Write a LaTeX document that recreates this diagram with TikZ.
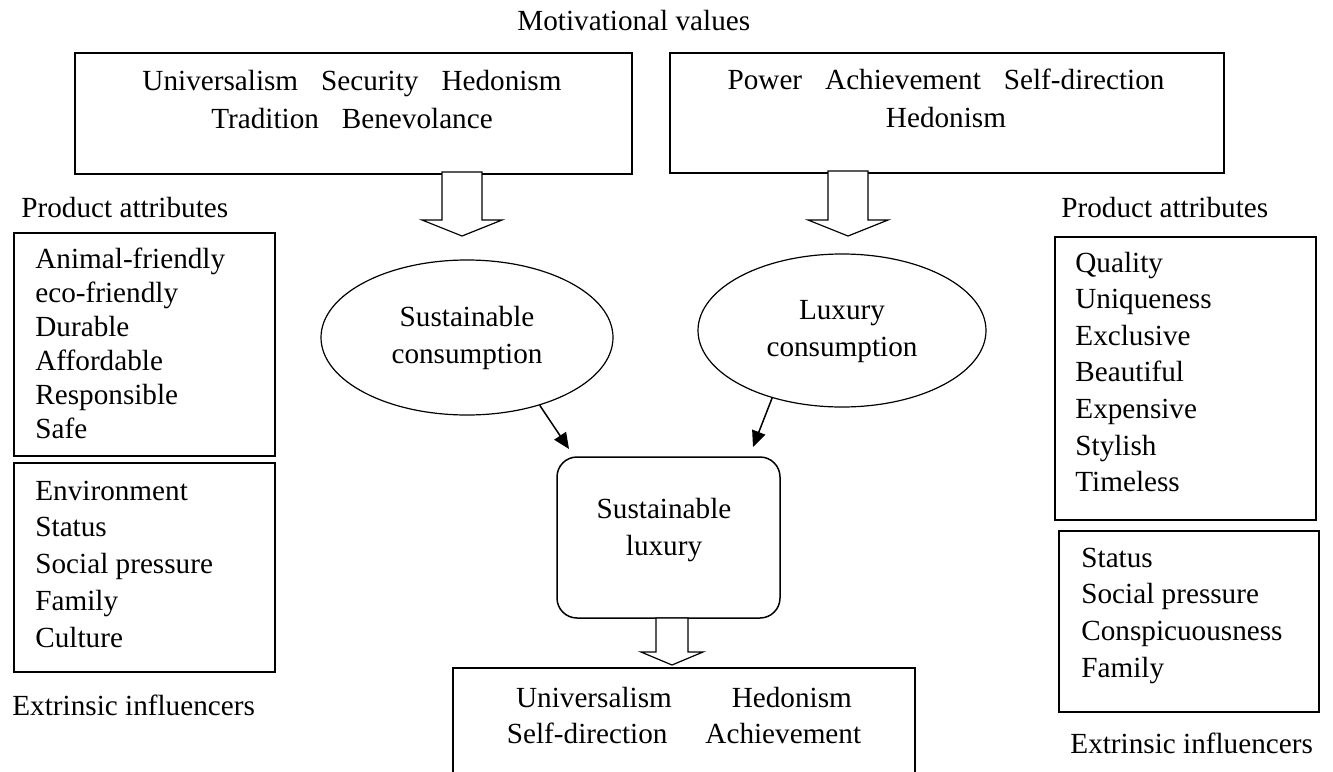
\documentclass[tikz,border=0pt]{standalone}
\usepackage{fontspec}
\setmainfont{Liberation Serif}
\usetikzlibrary{fit,arrows.meta,shapes.geometric}

% stacked lines: #1 = line spacing, #2 = lines
\newcommand{\lstack}[2]{\fontsize{14.6}{#1}\selectfont\begin{tabular}[t]{@{}l@{}}#2\end{tabular}}
\newcommand{\cstack}[2]{\fontsize{14.6}{#1}\selectfont\begin{tabular}[t]{@{}c@{}}#2\end{tabular}}
\newcommand{\wgap}{\hspace{11.5pt}}

\begin{document}
\begin{tikzpicture}[x=0.5pt,y=-0.5pt,
  txt/.style={inner sep=0pt, font=\fontsize{14.6}{17}\selectfont},
  frame/.style={draw, line width=0.75pt, inner sep=0pt},
  oval/.style={draw, ellipse, line width=0.6pt, inner sep=0pt},
  bigarrow/.style={draw, line width=0.6pt, fill=white, line join=miter},
  link/.style={line width=0.75pt, -{Triangle[length=8pt,width=7pt]}}
]
\clip (0,0) rectangle (1333,771);

% heading
\node[txt, anchor=base west] (mv) at (517,30) {Motivational values};

% motivational value boxes
\node[frame, fit={(75,53)(632,174)}] (vl) {};
\node[txt, anchor=base] (vltext) at (352,90)
  {\cstack{19pt}{Universalism\wgap Security\wgap Hedonism\\Tradition\wgap Benevolance}};
\node[frame, fit={(670,53)(1224,173)}] (vr) {};
\node[txt, anchor=base] (vrtext) at (946,89)
  {\cstack{19pt}{Power\wgap Achievement\wgap Self-direction\\Hedonism}};

% block arrows from the value boxes
\draw[bigarrow] (442,172) -- (442,220) -- (422,220) -- (462,236) -- (502,220) -- (482,220) -- (482,172) -- cycle;
\draw[bigarrow] (828,171) -- (828,220) -- (808,220) -- (848,236) -- (888,220) -- (868,220) -- (868,171) -- cycle;

% consumption ovals
\node[oval, minimum width=146pt, minimum height=77.5pt] (sc) at (467,337.5)
  {\cstack{18.5pt}{Sustainable\\consumption}};
\node[oval, minimum width=144pt, minimum height=76.5pt] (lc) at (842,330.5)
  {\cstack{18.5pt}{Luxury\\consumption}};

% sustainable luxury
\node[frame, rounded corners=10pt, fit={(557,457)(780,618)}] (sl) {};
\node[txt, anchor=base] (sltext) at (664,518) {\cstack{18.5pt}{Sustainable\\luxury}};

\coordinate (t1) at (569,449);
\coordinate (t2) at (753,447);
\draw[link] (sc.-43) -- (t1);
\draw[link] (lc.-136.5) -- (t2);

% outcome values
\draw[bigarrow] (656,618) -- (656,652) -- (641,652) -- (672,665) -- (703,652) -- (688,652) -- (688,618) -- cycle;
\node[frame, fit={(453,668)(915,800)}] (out) {};
\node[txt, anchor=base] (outtext) at (684,707)
  {\cstack{18pt}{Universalism\hspace{30pt}Hedonism\\Self-direction\hspace{19pt}Achievement}};

% left column
\node[txt, anchor=base west] (pal) at (21,217) {Product attributes};
\node[frame, fit={(14,233)(275,456)}] (attl) {};
\node[txt, anchor=base west] (attltext) at (35,268)
  {\lstack{17pt}{Animal-friendly\\eco-friendly\\Durable\\Affordable\\Responsible\\Safe}};
\node[frame, fit={(14,463)(275,672)}] (extl) {};
\node[txt, anchor=base west] (extltext) at (35,500)
  {\lstack{18.4pt}{Environment\\Status\\Social pressure\\Family\\Culture}};
\node[txt, anchor=base west] (eil) at (12,715) {Extrinsic influencers};

% right column
\node[txt, anchor=base west] (par) at (1061,217) {Product attributes};
\node[frame, fit={(1055,237)(1316,520)}] (attr) {};
\node[txt, anchor=base west] (attrtext) at (1075,272)
  {\lstack{18.3pt}{Quality\\Uniqueness\\Exclusive\\Beautiful\\Expensive\\Stylish\\Timeless}};
\node[frame, fit={(1059,531)(1319,712)}] (extr) {};
\node[txt, anchor=base west] (extrtext) at (1081,567)
  {\lstack{18.35pt}{Status\\Social pressure\\Conspicuousness\\Family}};
\node[txt, anchor=base west] (eir) at (1070,753) {Extrinsic influencers};
\end{tikzpicture}
\end{document}
